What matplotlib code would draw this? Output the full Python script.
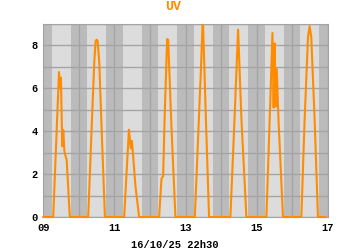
import numpy as np
import matplotlib.pyplot as plt

# UV index, one list of (hour of day) and one of values per day, 09 -> 16 oct
days = [9, 10, 11, 12, 13, 14, 15, 16]
day_hours = [
    [0, 6.7, 10.6, 11.3, 11.9, 12.8, 13.5, 14.2, 14.8, 15.8, 17.9],
    [0, 6.3, 8.6, 10.4, 11.3, 12.0, 12.7, 13.8, 15.4, 17.6],
    [0, 6.6, 9.8, 10.5, 11.1, 11.8, 12.7, 14.2, 16.7],
    [0, 6.2, 7.8, 8.9, 10.0, 11.6, 12.3, 14.6, 17.2],
    [0, 6.3, 10.0, 10.2, 11.5, 11.9, 13.8, 15.9],
    [0, 6.3, 9.6, 9.8, 11.5, 13.8, 17.1],
    [0, 6.6, 8.8, 10.7, 11.5, 12.2, 12.9, 13.6, 14.8, 17.8],
    [0, 6.2, 8.4, 10.7, 11.8, 12.9, 15.2, 17.4, 22.5],
]
day_uv = [
    [0, 0, 6.76, 6.0, 6.5, 3.3, 4.06, 3.1, 2.9, 2.66, 0],
    [0, 0, 4.07, 7.2, 8.2, 8.27, 8.2, 7.2, 4.07, 0],
    [0, 0, 4.07, 3.6, 3.2, 3.55, 2.8, 1.45, 0],
    [0, 0, 1.8, 1.9, 4.85, 8.3, 8.25, 4.07, 0],
    [0, 0, 6.2, 6.5, 8.95, 8.9, 4.5, 0],
    [0, 0, 5.4, 5.8, 8.74, 4.5, 0],
    [0, 0, 4.5, 8.58, 5.1, 8.1, 5.15, 6.9, 4.5, 0],
    [0, 0, 4.5, 8.4, 8.9, 8.4, 4.5, 0, 0],
]
tick_days = [9, 11, 13, 15, 17]
y_ticks = [0, 2, 4, 6, 8]
sunrise = 5.6
sunset = 18.4
title = "UV"
stamp = "16/10/25 22h30"

t = np.concatenate([d + np.array(h) / 24.0 for d, h in zip(days, day_hours)])
uv = np.concatenate([np.array(v) for v in day_uv])

orange = "#ff8c00"
font = dict(family="Liberation Mono", fontweight="bold", fontsize=7.5)

fig = plt.figure(figsize=(3.5, 2.5), dpi=100)
ax = fig.add_axes([0.1237, 0.132, 0.8126, 0.772])
ax.set_facecolor("#dcdcdc")

# nights in darker grey
for d in range(9, 18):
    ax.axvspan(d - 1 + sunset / 24.0, d + sunrise / 24.0, color="#bbbbbb", lw=0, zorder=0)

ax.set_xlim(9, 17)
ax.set_ylim(0, 9)
ax.set_xticks(range(9, 18), minor=False)
ax.set_xticklabels(["%02d" % d if d in tick_days else "" for d in range(9, 18)], **font)
ax.set_yticks(range(0, 10))
ax.set_yticklabels([str(v) if v in y_ticks else "" for v in range(0, 10)], **font)
ax.tick_params(length=0, pad=4)
ax.grid(True, color="#a4a4a4", lw=1.0, zorder=1)
ax.set_axisbelow(True)
for s in ax.spines.values():
    s.set_color("#a4a4a4")

ax.plot(t, uv, color=orange, lw=1.5, zorder=3, clip_on=False)

fig.text(0.4957, 0.958, title, color=orange, ha="center", va="baseline",
         family="Liberation Mono", fontweight="bold", fontsize=9.5)
fig.text(0.5, 0.021, stamp, ha="center", va="center", **font)

fig.savefig("out.png", dpi=100)
